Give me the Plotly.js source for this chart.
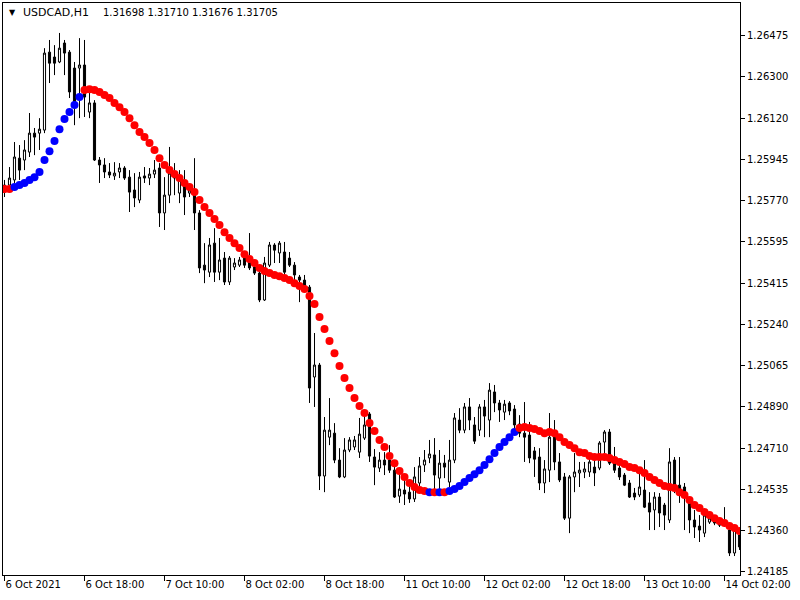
<!DOCTYPE html>
<html>
<head>
<meta charset="utf-8">
<script src="https://cdn.plot.ly/plotly-3.0.1.min.js"></script>
<style>html,body{margin:0;padding:0;background:#fff}#chart{width:800px;height:600px}</style>
</head>
<body>
<div id="chart"></div>
<script>
// USDCAD H1 candles (bar 0 = 6 Oct 2021 00:00)
const open = [
1.25834,1.25834,1.25856,1.25949,1.25941,1.25975,1.26056,1.26056,1.26069,1.26402,
1.26381,1.26360,1.26441,1.26402,1.26334,1.26334,1.26347,1.26146,1.26185,1.25941,
1.25920,1.25890,1.25873,1.25890,1.25907,1.25868,1.25813,1.25770,1.25873,1.25864,
1.25881,1.25907,1.25715,1.25791,1.25885,1.25800,1.25843,1.25800,1.25813,1.25715,
1.25492,1.25462,1.25586,1.25462,1.25522,1.25420,1.25484,1.25492,1.25522,1.25505,
1.25484,1.25458,1.25343,1.25492,1.25578,1.25544,1.25548,1.25522,1.25492,1.25441,
1.25428,1.25398,1.25014,1.25065,1.24591,1.24757,1.24774,1.24659,1.24587,1.24702,
1.24715,1.24693,1.24753,1.24856,1.24672,1.24625,1.24659,1.24659,1.24616,1.24505,
1.24531,1.24522,1.24493,1.24561,1.24638,1.24668,1.24681,1.24582,1.24646,1.24565,
1.24659,1.24830,1.24787,1.24886,1.24809,1.24787,1.24886,1.24830,1.24950,1.24903,
1.24864,1.24903,1.24877,1.24813,1.24774,1.24766,1.24698,1.24672,1.24561,1.24616,
1.24766,1.24651,1.24587,1.24411,1.24587,1.24604,1.24608,1.24608,1.24629,1.24625,
1.24736,1.24779,1.24646,1.24625,1.24595,1.24561,1.24518,1.24510,1.24531,1.24476,
1.24446,1.24501,1.24467,1.24403,1.24659,1.24552,1.24544,1.24488,1.24403,1.24377,
1.24347,1.24394,1.24403,1.24394,1.24381,1.24360,1.24262,1.24339];
const high = [
1.25856,1.25911,1.26018,1.26005,1.26026,1.26142,1.26078,1.26120,1.26419,1.26454,
1.26432,1.26484,1.26454,1.26411,1.26360,1.26462,1.26454,1.26240,1.26197,1.25954,
1.25949,1.25928,1.25932,1.25928,1.25915,1.25898,1.25885,1.25890,1.25911,1.25907,
1.25941,1.25928,1.25868,1.25997,1.25928,1.25898,1.25898,1.25826,1.25949,1.25727,
1.25586,1.25608,1.25650,1.25608,1.25548,1.25531,1.25522,1.25527,1.25531,1.25629,
1.25505,1.25484,1.25527,1.25591,1.25586,1.25595,1.25591,1.25548,1.25505,1.25450,
1.25450,1.25407,1.25202,1.25074,1.24843,1.24924,1.24817,1.24710,1.24753,1.24757,
1.24762,1.24839,1.24873,1.24864,1.24706,1.24693,1.24693,1.24723,1.24651,1.24608,
1.24574,1.24561,1.24629,1.24672,1.24702,1.24745,1.24753,1.24702,1.24681,1.24745,
1.24860,1.24881,1.24903,1.24924,1.24843,1.24898,1.24916,1.24988,1.24980,1.24916,
1.24916,1.24911,1.24894,1.24851,1.24907,1.24822,1.24715,1.24710,1.24659,1.24860,
1.24830,1.24689,1.24604,1.24595,1.24689,1.24651,1.24651,1.24668,1.24659,1.24740,
1.24787,1.24792,1.24715,1.24638,1.24604,1.24574,1.24540,1.24616,1.24659,1.24522,
1.24522,1.24518,1.24476,1.24710,1.24672,1.24672,1.24561,1.24501,1.24446,1.24424,
1.24437,1.24424,1.24416,1.24403,1.24458,1.24369,1.24373,1.24352];
const low = [
1.25783,1.25826,1.25843,1.25856,1.25898,1.25954,1.25962,1.25984,1.26056,1.26270,
1.26304,1.26355,1.26304,1.26206,1.26090,1.26120,1.26125,1.26120,1.25937,1.25843,
1.25864,1.25864,1.25856,1.25864,1.25856,1.25719,1.25740,1.25757,1.25843,1.25834,
1.25864,1.25655,1.25642,1.25757,1.25791,1.25757,1.25706,1.25783,1.25642,1.25458,
1.25415,1.25441,1.25420,1.25428,1.25407,1.25407,1.25471,1.25484,1.25480,1.25471,
1.25450,1.25334,1.25339,1.25484,1.25501,1.25501,1.25450,1.25484,1.25428,1.25334,
1.25386,1.24903,1.24886,1.24531,1.24522,1.24723,1.24646,1.24582,1.24582,1.24693,
1.24702,1.24668,1.24745,1.24651,1.24552,1.24608,1.24595,1.24604,1.24497,1.24476,
1.24467,1.24476,1.24480,1.24531,1.24608,1.24646,1.24531,1.24522,1.24582,1.24544,
1.24646,1.24774,1.24774,1.24787,1.24728,1.24762,1.24757,1.24757,1.24864,1.24822,
1.24830,1.24851,1.24787,1.24757,1.24651,1.24646,1.24587,1.24531,1.24518,1.24565,
1.24616,1.24565,1.24403,1.24347,1.24522,1.24544,1.24582,1.24587,1.24548,1.24616,
1.24672,1.24638,1.24604,1.24574,1.24548,1.24497,1.24488,1.24501,1.24454,1.24360,
1.24360,1.24373,1.24360,1.24390,1.24518,1.24476,1.24360,1.24347,1.24326,1.24309,
1.24330,1.24386,1.24381,1.24373,1.24373,1.24249,1.24249,1.24275];
const close = [
1.25804,1.25864,1.25954,1.25898,1.25984,1.26056,1.26039,1.26073,1.26398,1.26355,
1.26355,1.26419,1.26398,1.26232,1.26176,1.26347,1.26210,1.26185,1.25941,1.25920,
1.25890,1.25877,1.25885,1.25907,1.25864,1.25804,1.25779,1.25868,1.25864,1.25881,
1.25898,1.25715,1.25791,1.25885,1.25864,1.25856,1.25783,1.25813,1.25715,1.25480,
1.25471,1.25578,1.25462,1.25514,1.25420,1.25522,1.25501,1.25514,1.25492,1.25480,
1.25458,1.25343,1.25501,1.25578,1.25556,1.25586,1.25462,1.25492,1.25450,1.25428,
1.25398,1.24967,1.25065,1.24591,1.24787,1.24787,1.24659,1.24587,1.24702,1.24745,
1.24745,1.24770,1.24809,1.24676,1.24629,1.24659,1.24638,1.24616,1.24501,1.24535,
1.24514,1.24493,1.24587,1.24634,1.24659,1.24685,1.24595,1.24646,1.24629,1.24659,
1.24839,1.24787,1.24886,1.24830,1.24740,1.24886,1.24847,1.24958,1.24903,1.24873,
1.24898,1.24869,1.24809,1.24774,1.24757,1.24668,1.24663,1.24561,1.24621,1.24757,
1.24651,1.24574,1.24411,1.24587,1.24608,1.24616,1.24621,1.24651,1.24604,1.24732,
1.24779,1.24646,1.24616,1.24587,1.24552,1.24501,1.24501,1.24544,1.24458,1.24437,
1.24501,1.24433,1.24424,1.24651,1.24552,1.24531,1.24522,1.24403,1.24373,1.24360,
1.24424,1.24411,1.24390,1.24381,1.24394,1.24262,1.24360,1.24288];

// Moving-average indicator value per bar and its direction buffer (1 = up/blue, -1 = down/red)
const maValue = [
1.25817,1.25817,1.25826,1.25834,1.25843,1.25856,1.25868,1.25890,1.25941,1.25979,
1.26022,1.26073,1.26116,1.26146,1.26176,1.26210,1.26240,1.26244,1.26240,1.26232,
1.26219,1.26206,1.26185,1.26167,1.26146,1.26120,1.26090,1.26061,1.26039,1.26014,
1.25984,1.25949,1.25920,1.25898,1.25881,1.25864,1.25843,1.25826,1.25804,1.25770,
1.25740,1.25715,1.25689,1.25663,1.25633,1.25608,1.25586,1.25565,1.25539,1.25518,
1.25501,1.25480,1.25467,1.25458,1.25450,1.25445,1.25437,1.25428,1.25415,1.25403,
1.25390,1.25360,1.25326,1.25270,1.25219,1.25168,1.25116,1.25061,1.25010,1.24967,
1.24924,1.24890,1.24860,1.24817,1.24783,1.24745,1.24715,1.24676,1.24646,1.24612,
1.24587,1.24561,1.24544,1.24531,1.24527,1.24522,1.24522,1.24522,1.24522,1.24527,
1.24535,1.24548,1.24565,1.24582,1.24599,1.24616,1.24638,1.24663,1.24689,1.24715,
1.24736,1.24757,1.24779,1.24796,1.24800,1.24796,1.24792,1.24783,1.24774,1.24779,
1.24774,1.24757,1.24736,1.24723,1.24710,1.24693,1.24689,1.24676,1.24672,1.24672,
1.24672,1.24668,1.24659,1.24651,1.24642,1.24629,1.24625,1.24616,1.24604,1.24587,
1.24574,1.24561,1.24548,1.24544,1.24540,1.24522,1.24510,1.24488,1.24467,1.24454,
1.24437,1.24424,1.24411,1.24399,1.24390,1.24377,1.24369,1.24356];
const maTrend = [
-1,-1,1,1,1,1,1,1,1,1,
1,1,1,1,1,1,-1,-1,-1,-1,
-1,-1,-1,-1,-1,-1,-1,-1,-1,-1,
-1,-1,-1,-1,-1,-1,-1,-1,-1,-1,
-1,-1,-1,-1,-1,-1,-1,-1,-1,-1,
-1,-1,-1,-1,-1,-1,-1,-1,-1,-1,
-1,-1,-1,-1,-1,-1,-1,-1,-1,-1,
-1,-1,-1,-1,-1,-1,-1,-1,-1,-1,
-1,-1,-1,-1,-1,1,-1,1,-1,1,
1,1,1,1,1,1,1,1,1,1,
1,1,1,-1,-1,-1,-1,-1,-1,-1,
-1,-1,-1,-1,-1,-1,-1,-1,-1,-1,
-1,-1,-1,-1,-1,-1,-1,-1,-1,-1,
-1,-1,-1,-1,-1,-1,-1,-1,-1,-1,
-1,-1,-1,-1,-1,-1,-1,-1];

const timeTickBars = [0,16,32,48,64,80,96,112,128,144];
const timeTickLabels = ["6 Oct 2021","6 Oct 18:00","7 Oct 10:00","8 Oct 02:00","8 Oct 18:00",
  "11 Oct 10:00","12 Oct 02:00","12 Oct 18:00","13 Oct 10:00","14 Oct 02:00"];
const priceTicks = [1.26475,1.26300,1.26120,1.25945,1.25770,1.25595,1.25415,
  1.25240,1.25065,1.24890,1.24710,1.24535,1.24360,1.24185];
const symbolText = "USDCAD,H1";
const quoteText = "1.31698 1.31710 1.31676 1.31705";

const barIndex = open.map((_, i) => i);
const FONT = "DejaVu Sans, Tahoma, sans-serif";

const candles = {
  type: "candlestick",
  x: barIndex, open: open, high: high, low: low, close: close,
  increasing: {line: {color: "#000000", width: 1}, fillcolor: "#ffffff"},
  decreasing: {line: {color: "#000000", width: 1}, fillcolor: "#000000"},
  whiskerwidth: 0,
  hoverinfo: "none",
  showlegend: false
};
const ma = {
  type: "scatter", mode: "markers",
  x: barIndex, y: maValue,
  marker: {size: 8, color: maTrend.map(t => t > 0 ? "#0000ff" : "#ff0000"), line: {width: 0}},
  hoverinfo: "none", showlegend: false
};

const layout = {
  width: 800, height: 600,
  margin: {l: 3, r: 60, t: 3, b: 25, pad: 0},
  paper_bgcolor: "#ffffff", plot_bgcolor: "#ffffff",
  showlegend: false,
  boxgap: 0.4,
  font: {family: FONT, size: 10, color: "#000000"},
  xaxis: {
    range: [-0.3, 147.1],
    tickmode: "array", tickvals: timeTickBars, ticktext: timeTickLabels,
    ticks: "outside", ticklen: 5, tickcolor: "#000000", tickwidth: 1,
    ticklabelposition: "outside right",
    tickfont: {family: FONT, size: 10, color: "#000000"},
    showgrid: false, zeroline: false,
    showline: true, linecolor: "#000000", linewidth: 1, mirror: true,
    rangeslider: {visible: false}, fixedrange: true
  },
  yaxis: {
    side: "right",
    range: [1.24168, 1.26612],
    tickmode: "array", tickvals: priceTicks, ticktext: priceTicks.map(v => v.toFixed(5)),
    ticks: "outside", ticklen: 4, tickcolor: "#000000", tickwidth: 1,
    tickfont: {family: FONT, size: 10, color: "#000000"},
    showgrid: false, zeroline: false,
    showline: true, linecolor: "#000000", linewidth: 1, mirror: true,
    fixedrange: true
  },
  annotations: [
    {xref: "paper", yref: "paper", x: 0.006, y: 0.983, xanchor: "left", yanchor: "middle",
     text: "\u25BC", showarrow: false, font: {family: FONT, size: 8, color: "#000000"}},
    {xref: "paper", yref: "paper", x: 0.025, y: 0.983, xanchor: "left", yanchor: "middle",
     text: symbolText, showarrow: false, font: {family: FONT, size: 11, color: "#000000"}},
    {xref: "paper", yref: "paper", x: 0.133, y: 0.983, xanchor: "left", yanchor: "middle",
     text: quoteText, showarrow: false, font: {family: FONT, size: 10, color: "#000000"}}
  ]
};

Plotly.newPlot("chart", [candles, ma], layout, {staticPlot: true, displayModeBar: false});
</script>
</body>
</html>
